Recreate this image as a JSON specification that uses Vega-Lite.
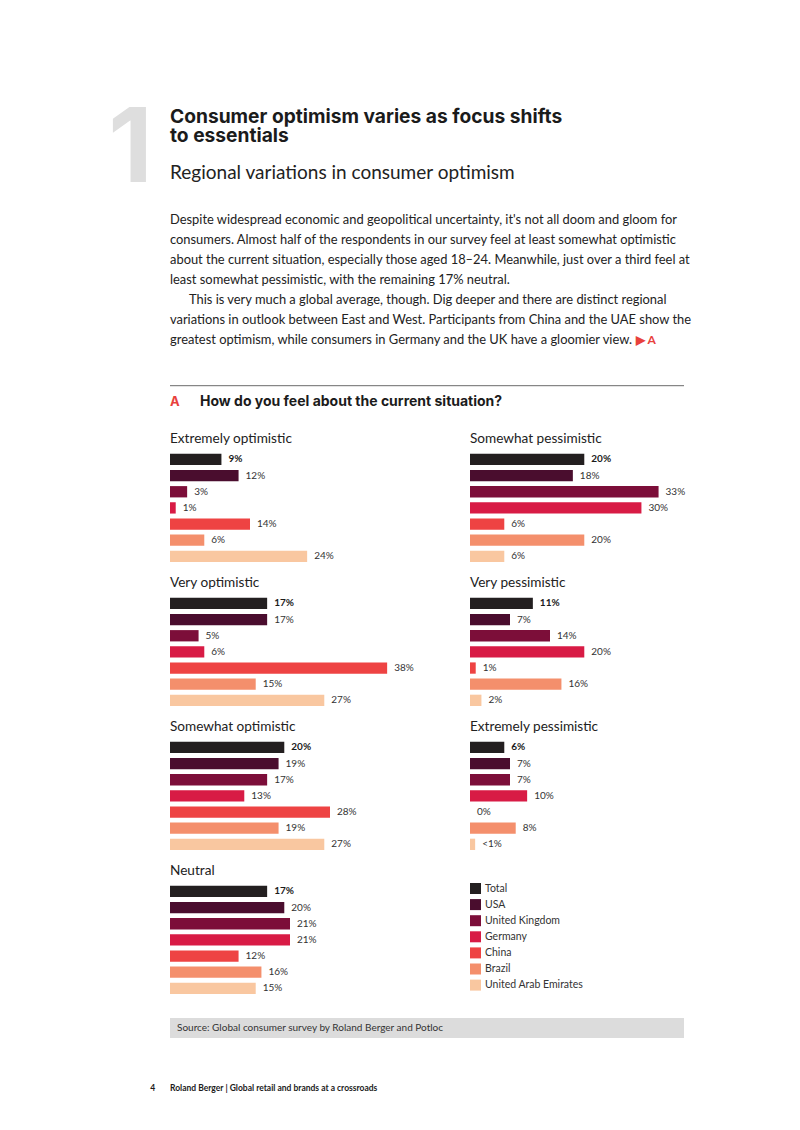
{
  "$schema": "https://vega.github.io/schema/vega-lite/v6.json",
  "padding": {"left": 108, "top": 100, "right": 10, "bottom": 5},
  "background": "white",
  "config": {"view": {"stroke": null}, "font": "Lato", "text": {"font": "Lato"}},
  "title": {"text": "1", "orient": "left", "angle": 0, "anchor": "end", "frame": "group", "align": "right", "baseline": "alphabetic", "dy": -32, "offset": -47, "font": "Inter", "fontSize": 103, "fontWeight": "bold", "color": "#dedede"},
  "datasets": {
    "paragraph": [
      {"line": 1, "text": "Despite widespread economic and geopolitical uncertainty, it's not all doom and gloom for"},
      {"line": 2, "text": "consumers. Almost half of the respondents in our survey feel at least somewhat optimistic"},
      {"line": 3, "text": "about the current situation, especially those aged 18–24. Meanwhile, just over a third feel at"},
      {"line": 4, "text": "least somewhat pessimistic, with the remaining 17% neutral."},
      {"line": 5, "text": "This is very much a global average, though. Dig deeper and there are distinct regional"},
      {"line": 6, "text": "variations in outlook between East and West. Participants from China and the UAE show the"},
      {"line": 7, "text": "greatest optimism, while consumers in Germany and the UK have a gloomier view."}
    ],
    "bars": [
      {"category": "Extremely optimistic", "country": "Total", "value": 9, "label": "9%"},
      {"category": "Extremely optimistic", "country": "USA", "value": 12, "label": "12%"},
      {"category": "Extremely optimistic", "country": "United Kingdom", "value": 3, "label": "3%"},
      {"category": "Extremely optimistic", "country": "Germany", "value": 1, "label": "1%"},
      {"category": "Extremely optimistic", "country": "China", "value": 14, "label": "14%"},
      {"category": "Extremely optimistic", "country": "Brazil", "value": 6, "label": "6%"},
      {"category": "Extremely optimistic", "country": "United Arab Emirates", "value": 24, "label": "24%"},
      {"category": "Very optimistic", "country": "Total", "value": 17, "label": "17%"},
      {"category": "Very optimistic", "country": "USA", "value": 17, "label": "17%"},
      {"category": "Very optimistic", "country": "United Kingdom", "value": 5, "label": "5%"},
      {"category": "Very optimistic", "country": "Germany", "value": 6, "label": "6%"},
      {"category": "Very optimistic", "country": "China", "value": 38, "label": "38%"},
      {"category": "Very optimistic", "country": "Brazil", "value": 15, "label": "15%"},
      {"category": "Very optimistic", "country": "United Arab Emirates", "value": 27, "label": "27%"},
      {"category": "Somewhat optimistic", "country": "Total", "value": 20, "label": "20%"},
      {"category": "Somewhat optimistic", "country": "USA", "value": 19, "label": "19%"},
      {"category": "Somewhat optimistic", "country": "United Kingdom", "value": 17, "label": "17%"},
      {"category": "Somewhat optimistic", "country": "Germany", "value": 13, "label": "13%"},
      {"category": "Somewhat optimistic", "country": "China", "value": 28, "label": "28%"},
      {"category": "Somewhat optimistic", "country": "Brazil", "value": 19, "label": "19%"},
      {"category": "Somewhat optimistic", "country": "United Arab Emirates", "value": 27, "label": "27%"},
      {"category": "Neutral", "country": "Total", "value": 17, "label": "17%"},
      {"category": "Neutral", "country": "USA", "value": 20, "label": "20%"},
      {"category": "Neutral", "country": "United Kingdom", "value": 21, "label": "21%"},
      {"category": "Neutral", "country": "Germany", "value": 21, "label": "21%"},
      {"category": "Neutral", "country": "China", "value": 12, "label": "12%"},
      {"category": "Neutral", "country": "Brazil", "value": 16, "label": "16%"},
      {"category": "Neutral", "country": "United Arab Emirates", "value": 15, "label": "15%"},
      {"category": "Somewhat pessimistic", "country": "Total", "value": 20, "label": "20%"},
      {"category": "Somewhat pessimistic", "country": "USA", "value": 18, "label": "18%"},
      {"category": "Somewhat pessimistic", "country": "United Kingdom", "value": 33, "label": "33%"},
      {"category": "Somewhat pessimistic", "country": "Germany", "value": 30, "label": "30%"},
      {"category": "Somewhat pessimistic", "country": "China", "value": 6, "label": "6%"},
      {"category": "Somewhat pessimistic", "country": "Brazil", "value": 20, "label": "20%"},
      {"category": "Somewhat pessimistic", "country": "United Arab Emirates", "value": 6, "label": "6%"},
      {"category": "Very pessimistic", "country": "Total", "value": 11, "label": "11%"},
      {"category": "Very pessimistic", "country": "USA", "value": 7, "label": "7%"},
      {"category": "Very pessimistic", "country": "United Kingdom", "value": 14, "label": "14%"},
      {"category": "Very pessimistic", "country": "Germany", "value": 20, "label": "20%"},
      {"category": "Very pessimistic", "country": "China", "value": 1, "label": "1%"},
      {"category": "Very pessimistic", "country": "Brazil", "value": 16, "label": "16%"},
      {"category": "Very pessimistic", "country": "United Arab Emirates", "value": 2, "label": "2%"},
      {"category": "Extremely pessimistic", "country": "Total", "value": 6, "label": "6%"},
      {"category": "Extremely pessimistic", "country": "USA", "value": 7, "label": "7%"},
      {"category": "Extremely pessimistic", "country": "United Kingdom", "value": 7, "label": "7%"},
      {"category": "Extremely pessimistic", "country": "Germany", "value": 10, "label": "10%"},
      {"category": "Extremely pessimistic", "country": "China", "value": 0, "label": "0%"},
      {"category": "Extremely pessimistic", "country": "Brazil", "value": 8, "label": "8%"},
      {"category": "Extremely pessimistic", "country": "United Arab Emirates", "value": 0.9, "label": "<1%"}
    ]
  },
  "bounds": "full",
  "spacing": 21.7,
  "vconcat": [
    {
      "width": 514,
      "height": 148.8,
      "title": {"text": ["Consumer optimism varies as focus shifts", "to essentials"], "subtitle": "Regional variations in consumer optimism", "anchor": "start", "frame": "group", "font": "Inter", "fontSize": 19.2, "fontWeight": "bold", "color": "#1b1b1b", "lineHeight": 19, "subtitleFont": "Lato", "subtitleFontSize": 19, "subtitleColor": "#222222", "subtitlePadding": 18, "offset": 31},
      "data": {"name": "paragraph"},
      "encoding": {
        "y": {"field": "line", "type": "ordinal", "scale": {"type": "band", "paddingInner": 0, "paddingOuter": 0.22, "align": 0}, "axis": null},
        "x": {"value": 0}
      },
      "layer": [
        {
          "transform": [{"filter": "datum.line != 5"}],
          "mark": {"type": "text", "align": "left", "baseline": "alphabetic", "fontSize": 12.9, "color": "#222222"},
          "encoding": {"text": {"field": "text"}}
        },
        {
          "transform": [{"filter": "datum.line == 5"}],
          "mark": {"type": "text", "align": "left", "baseline": "alphabetic", "fontSize": 12.9, "color": "#222222", "dx": 19},
          "encoding": {"text": {"field": "text"}}
        },
        {
          "transform": [{"filter": "datum.line == 7"}],
          "mark": {"type": "text", "align": "left", "baseline": "alphabetic", "fontSize": 12, "fontWeight": "bold", "color": "#e8413c", "dx": 466},
          "encoding": {"text": {"value": "▶ A"}}
        }
      ]
    },
    {
      "width": 514,
      "height": 23.1,
      "data": {"values": [{"label": "A", "question": "How do you feel about the current situation?"}]},
      "layer": [
        {"mark": {"type": "rule", "color": "#6b6b6b", "strokeWidth": 1}, "encoding": {"y": {"value": 0}}},
        {"mark": {"type": "text", "align": "left", "baseline": "alphabetic", "font": "Inter", "fontSize": 13, "fontWeight": "bold", "color": "#e8413c"}, "encoding": {"x": {"value": 0}, "y": {"value": 19.8}, "text": {"field": "label"}}},
        {"mark": {"type": "text", "align": "left", "baseline": "alphabetic", "font": "Inter", "fontSize": 14, "fontWeight": "bold", "color": "#1b1b1b"}, "encoding": {"x": {"value": 30}, "y": {"value": 19.8}, "text": {"field": "question"}}}
      ]
    },
    {
      "data": {"name": "bars"},
      "facet": {
        "field": "category",
        "type": "nominal",
        "sort": ["Extremely optimistic", "Somewhat pessimistic", "Very optimistic", "Very pessimistic", "Somewhat optimistic", "Extremely pessimistic", "Neutral"],
        "title": null,
        "header": {"labelFont": "Lato", "labelFontSize": 13.6, "labelColor": "#222222", "labelAnchor": "start", "labelAlign": "left", "labelBaseline": "alphabetic", "labelPadding": -5.4}
      },
      "columns": 2,
      "bounds": "flush",
      "spacing": {"row": 31, "column": 20},
      "spec": {
        "width": 280,
        "height": 113,
        "encoding": {
          "y": {"field": "country", "type": "nominal", "sort": ["Total", "USA", "United Kingdom", "Germany", "China", "Brazil", "United Arab Emirates"], "scale": {"paddingInner": 0.3, "paddingOuter": 0.15}, "axis": null},
          "x": {"field": "value", "type": "quantitative", "scale": {"domain": [0, 49], "nice": false}, "axis": null}
        },
        "layer": [
          {
            "mark": {"type": "bar"},
            "encoding": {
              "color": {
                "field": "country",
                "type": "nominal",
                "scale": {"domain": ["Total", "USA", "United Kingdom", "Germany", "China", "Brazil", "United Arab Emirates"], "range": ["#231f20", "#4a0d2e", "#7c0e39", "#d81b45", "#ee4343", "#f48f6c", "#f9c7a0"]},
                "legend": {"title": null, "orient": "none", "legendX": 300, "legendY": 669, "symbolType": "square", "symbolSize": 121, "symbolStrokeWidth": 0, "symbolOpacity": 1, "labelFont": "Lato", "labelFontSize": 10.5, "labelColor": "#333333", "labelOffset": 4, "rowPadding": 5.1, "padding": 0}
              }
            }
          },
          {
            "transform": [{"filter": "datum.country !== 'Total'"}],
            "mark": {"type": "text", "align": "left", "baseline": "middle", "dx": 7, "fontSize": 10, "color": "#333333"},
            "encoding": {"text": {"field": "label"}}
          },
          {
            "transform": [{"filter": "datum.country === 'Total'"}],
            "mark": {"type": "text", "align": "left", "baseline": "middle", "dx": 7, "fontSize": 10, "fontWeight": "bold", "color": "#1b1b1b"},
            "encoding": {"text": {"field": "label"}}
          }
        ]
      }
    },
    {
      "width": 514,
      "height": 20,
      "view": {"fill": "#dcdcdc"},
      "data": {"values": [{"source": "Source: Global consumer survey by Roland Berger and Potloc"}]},
      "mark": {"type": "text", "align": "left", "baseline": "middle", "fontSize": 10, "color": "#333333", "dx": 7},
      "encoding": {"x": {"value": 0}, "text": {"field": "source"}}
    },
    {
      "width": 514,
      "height": 56.6,
      "title": {"text": "4", "orient": "left", "angle": 0, "anchor": "middle", "align": "right", "baseline": "middle", "offset": 10, "font": "Lato", "fontSize": 8.5, "fontWeight": "bold", "color": "#1b1b1b"},
      "data": {"values": [{"footer": "Roland Berger | Global retail and brands at a crossroads"}]},
      "mark": {"type": "text", "align": "left", "baseline": "middle", "font": "Lato", "fontSize": 8.5, "fontWeight": "bold", "color": "#1b1b1b"},
      "encoding": {"x": {"value": 0}, "text": {"field": "footer"}}
    }
  ]
}
